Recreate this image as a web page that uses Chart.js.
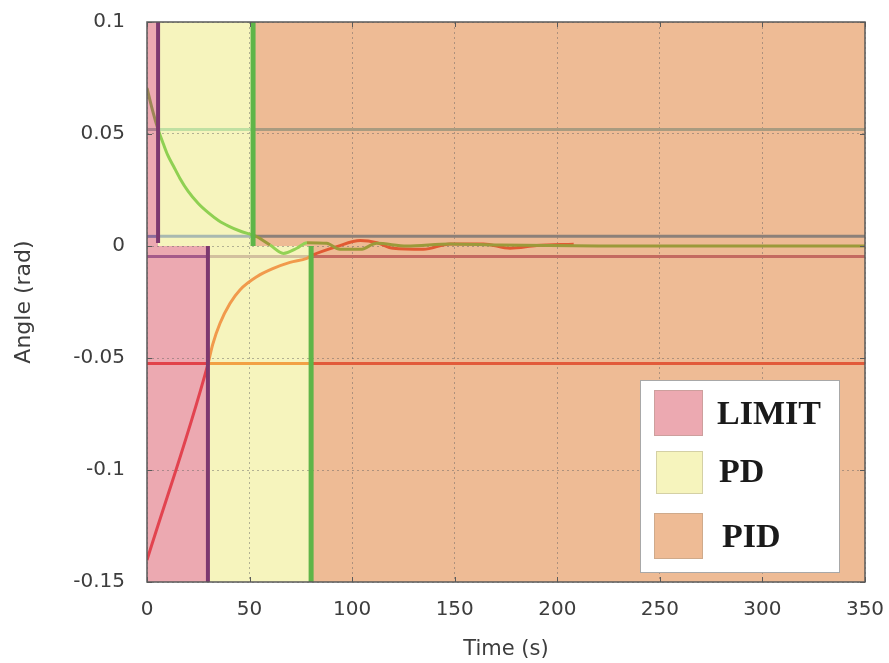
<!DOCTYPE html>
<html>
<head>
<meta charset="utf-8">
<script src="https://cdn.jsdelivr.net/npm/chart.js@4.4.1/dist/chart.umd.min.js"></script>
<style>
  html, body { margin: 0; padding: 0; background: #fff; }
  #wrap { width: 889px; height: 663px; position: relative; }
</style>
</head>
<body>
<div id="wrap"><canvas id="c" width="889" height="663"></canvas></div>
<script>
// Controller phases and the times (s) at which the controller switches
const phases = ['LIMIT', 'PD', 'PID'];
const upperSwitchTimes = [5.4, 51.7];   // run that starts above zero
const lowerSwitchTimes = [29.7, 80];    // run that starts below zero

// Switching thresholds (rad)
const upperThresholds = [0.052, 0.0043];
const lowerThresholds = [-0.0047, -0.0525];

// Response starting at +0.07 rad
const upperTime  = [0, 2.7, 5.4, 8, 10, 13, 16, 20, 25, 30, 35, 40, 45, 51.7, 53.5, 60, 66.5, 73, 78, 87.6, 94, 104, 112, 126.6, 147.7, 172, 220, 350];
const upperAngle = [0.0705, 0.0605, 0.052, 0.0455, 0.0408, 0.0355, 0.0303, 0.0245, 0.019, 0.0148, 0.0113, 0.0088, 0.0068, 0.0048, 0.0042, 0.0004, -0.0033, -0.001, 0.0015, 0.0012, -0.0015, -0.0015, 0.0012, 0, 0.0009, 0.0004, 0, 0];

// Response starting at -0.14 rad
const lowerTime  = [0, 29.7, 32, 35.6, 40.5, 45.3, 53.5, 61.6, 69.7, 77.9, 81, 92.5, 104, 112, 120, 134.7, 147.7, 164, 177, 190, 208];
const lowerAngle = [-0.1402, -0.0527, -0.0440, -0.0345, -0.0256, -0.0196, -0.0137, -0.0100, -0.0073, -0.0055, -0.004, -0.0003, 0.0024, 0.0015, -0.001, -0.0015, 0.0009, 0.0009, -0.001, 0.0002, 0.0008];

// Extent of the phase-switch markers (rad)
const upperMarkerEnds = [0.0013, 0];
const lowerMarkerEnds = [0, 0];

const xTicks = [0, 50, 100, 150, 200, 250, 300, 350];
const yTicks = [0.1, 0.05, 0, -0.05, -0.1, -0.15];
const xRange = [0, 350];
const yRange = [-0.15, 0.1];

// ---- styling ----
const phaseFill = ['#eca9b1', '#f6f4bd', '#eebb95'];
const upperCurveColors = ['#9c8655', '#8fd052', '#9b9a3a'];
const upperDipColor = '#93d255';
const lowerCurveColors = ['#e2434f', '#f19a4c', '#e15a33'];
const thresholdColors = [
  ['#b0808e', '#bfe0a2', '#a99b80'],
  ['#8c6c9c', '#a9b9b0', '#8c8079'],
  ['#a55a8a', '#d2c09e', '#c46a60'],
  ['#e2424a', '#f2a144', '#e25a3a']
];
const markerColors = ['#7d386f', '#5fb548'];
const textColor = '#3d3d3d';

function phaseAt(t, switches) {
  return t < switches[0] ? 0 : (t < switches[1] ? 1 : 2);
}
const toXY = (ts, vs) => ts.map((t, i) => ({ x: t, y: vs[i] }));

const datasets = [];

// Threshold lines, coloured by the phase region they cross
[[upperThresholds, upperSwitchTimes], [lowerThresholds, lowerSwitchTimes]].forEach(([levels, sw], half) => {
  levels.forEach((lvl, k) => {
    const colors = thresholdColors[half * 2 + k];
    datasets.push({
      data: [xRange[0], sw[0], sw[1], xRange[1]].map(t => ({ x: t, y: lvl })),
      borderWidth: 3,
      borderColor: colors[2],
      pointRadius: 0,
      tension: 0,
      order: 10,
      segment: {
        borderColor: ctx => colors[phaseAt((ctx.p0.parsed.x + ctx.p1.parsed.x) / 2, sw)]
      }
    });
  });
});

// Response from below zero
datasets.push({
  data: toXY(lowerTime, lowerAngle),
  borderWidth: 3,
  borderColor: lowerCurveColors[2],
  pointRadius: 0,
  cubicInterpolationMode: 'monotone',
  order: 8,
  segment: {
    borderColor: ctx => lowerCurveColors[phaseAt((ctx.p0.parsed.x + ctx.p1.parsed.x) / 2, lowerSwitchTimes)]
  }
});

// Response from above zero
datasets.push({
  data: toXY(upperTime, upperAngle),
  borderWidth: 3,
  borderColor: upperCurveColors[2],
  pointRadius: 0,
  cubicInterpolationMode: 'monotone',
  order: 6,
  segment: {
    borderColor: ctx => {
      const mid = (ctx.p0.parsed.x + ctx.p1.parsed.x) / 2;
      const lo = Math.min(ctx.p0.parsed.y, ctx.p1.parsed.y);
      const ph = phaseAt(mid, upperSwitchTimes);
      if (ph === 2 && lo < 0 && mid < lowerSwitchTimes[1]) return upperDipColor;
      return upperCurveColors[ph];
    }
  }
});

// Phase-switch markers
upperSwitchTimes.forEach((t, i) => {
  datasets.push({
    data: [{ x: t, y: yRange[1] }, { x: t, y: upperMarkerEnds[i] }],
    borderWidth: i === 0 ? 4 : 5,
    borderColor: markerColors[i],
    pointRadius: 0, tension: 0, order: 1
  });
});
lowerSwitchTimes.forEach((t, i) => {
  datasets.push({
    data: [{ x: t, y: lowerMarkerEnds[i] }, { x: t, y: yRange[0] }],
    borderWidth: i === 0 ? 4 : 5,
    borderColor: markerColors[i],
    pointRadius: 0, tension: 0, order: 1
  });
});

// Phase backgrounds behind the grid
const phaseBackground = {
  id: 'phaseBackground',
  beforeDraw(chart) {
    const { ctx, chartArea: a, scales: { x, y } } = chart;
    const zero = y.getPixelForValue(0);
    const drawBand = (sw, top, bottom) => {
      const edges = [xRange[0], sw[0], sw[1], xRange[1]];
      for (let p = 0; p < 3; p++) {
        const l = x.getPixelForValue(edges[p]);
        const r = x.getPixelForValue(edges[p + 1]);
        ctx.fillStyle = phaseFill[p];
        ctx.fillRect(l, top, r - l, bottom - top);
      }
    };
    ctx.save();
    drawBand(upperSwitchTimes, a.top, zero);
    drawBand(lowerSwitchTimes, zero, a.bottom);
    ctx.restore();
  }
};

// Frame, inward tick marks and the phase key
const frameAndKey = {
  id: 'frameAndKey',
  afterDraw(chart) {
    const { ctx, chartArea: a, scales: { x, y } } = chart;
    ctx.save();
    ctx.strokeStyle = '#5a5a5a';
    ctx.lineWidth = 1;
    ctx.beginPath();
    xTicks.forEach(t => {
      const px = Math.round(x.getPixelForValue(t)) + 0.5;
      ctx.moveTo(px, a.bottom); ctx.lineTo(px, a.bottom - 5);
      ctx.moveTo(px, a.top); ctx.lineTo(px, a.top + 5);
    });
    yTicks.forEach(v => {
      const py = Math.round(y.getPixelForValue(v)) + 0.5;
      ctx.moveTo(a.left, py); ctx.lineTo(a.left + 5, py);
      ctx.moveTo(a.right, py); ctx.lineTo(a.right - 5, py);
    });
    ctx.stroke();
    ctx.lineWidth = 1.5;
    ctx.strokeRect(a.left, a.top, a.right - a.left, a.bottom - a.top);

    // key box
    const bx = a.right - 225, by = a.bottom - 202, bw = 199, bh = 192;
    ctx.fillStyle = '#ffffff';
    ctx.fillRect(bx, by, bw, bh);
    ctx.strokeStyle = '#a8a8a8';
    ctx.lineWidth = 1;
    ctx.strokeRect(bx + 0.5, by + 0.5, bw, bh);
    const rows = [
      { sx: 14, sy: 10, sw: 49, sh: 46, tx: 77, ty: 44 },
      { sx: 16, sy: 71, sw: 47, sh: 43, tx: 79, ty: 102 },
      { sx: 14, sy: 133, sw: 49, sh: 46, tx: 82, ty: 167 }
    ];
    ctx.font = 'bold 34px "Liberation Serif", "Times New Roman", serif';
    ctx.textBaseline = 'alphabetic';
    ctx.textAlign = 'left';
    rows.forEach((r, i) => {
      ctx.fillStyle = phaseFill[i];
      ctx.fillRect(bx + r.sx, by + r.sy, r.sw, r.sh);
      ctx.strokeStyle = 'rgba(150,140,120,0.35)';
      ctx.strokeRect(bx + r.sx + 0.5, by + r.sy + 0.5, r.sw - 1, r.sh - 1);
      ctx.fillStyle = '#1a1a1a';
      ctx.fillText(phases[i], bx + r.tx, by + r.ty);
    });
    ctx.restore();
  }
};

Chart.defaults.font.family = '"DejaVu Sans", sans-serif';
Chart.defaults.color = textColor;

const fmt = v => String(parseFloat(Number(v).toFixed(3)));

new Chart(document.getElementById('c'), {
  type: 'line',
  data: { datasets },
  options: {
    responsive: false,
    animation: false,
    devicePixelRatio: 1,
    layout: { padding: { top: 22, right: 24, bottom: 0, left: 0 } },
    plugins: { legend: { display: false }, tooltip: { enabled: false } },
    scales: {
      x: {
        type: 'linear',
        min: xRange[0], max: xRange[1],
        afterBuildTicks: s => { s.ticks = xTicks.map(v => ({ value: v })); },
        afterFit: s => { s.height = 81; s.paddingLeft = 0; s.paddingRight = 0; },
        ticks: { font: { size: 20 }, color: textColor, padding: 16, maxRotation: 0, callback: fmt },
        grid: { color: 'rgba(95,95,95,0.45)', lineWidth: 1, drawTicks: false },
        border: { display: false, dash: [2, 3] },
        title: { display: true, text: 'Time (s)', font: { size: 21 }, color: textColor, padding: { top: 0, bottom: 1 } }
      },
      y: {
        type: 'linear',
        min: yRange[0], max: yRange[1],
        afterBuildTicks: s => { s.ticks = yTicks.map(v => ({ value: v })); },
        afterFit: s => { s.width = 147; s.paddingTop = 0; s.paddingBottom = 0; },
        ticks: { font: { size: 20 }, color: textColor, padding: 22, callback: fmt },
        grid: { color: 'rgba(95,95,95,0.45)', lineWidth: 1, drawTicks: false },
        border: { display: false, dash: [2, 3] },
        title: { display: true, text: 'Angle (rad)', font: { size: 22 }, color: textColor, padding: { top: 11, bottom: 0 } }
      }
    }
  },
  plugins: [phaseBackground, frameAndKey]
});
</script>
</body>
</html>
